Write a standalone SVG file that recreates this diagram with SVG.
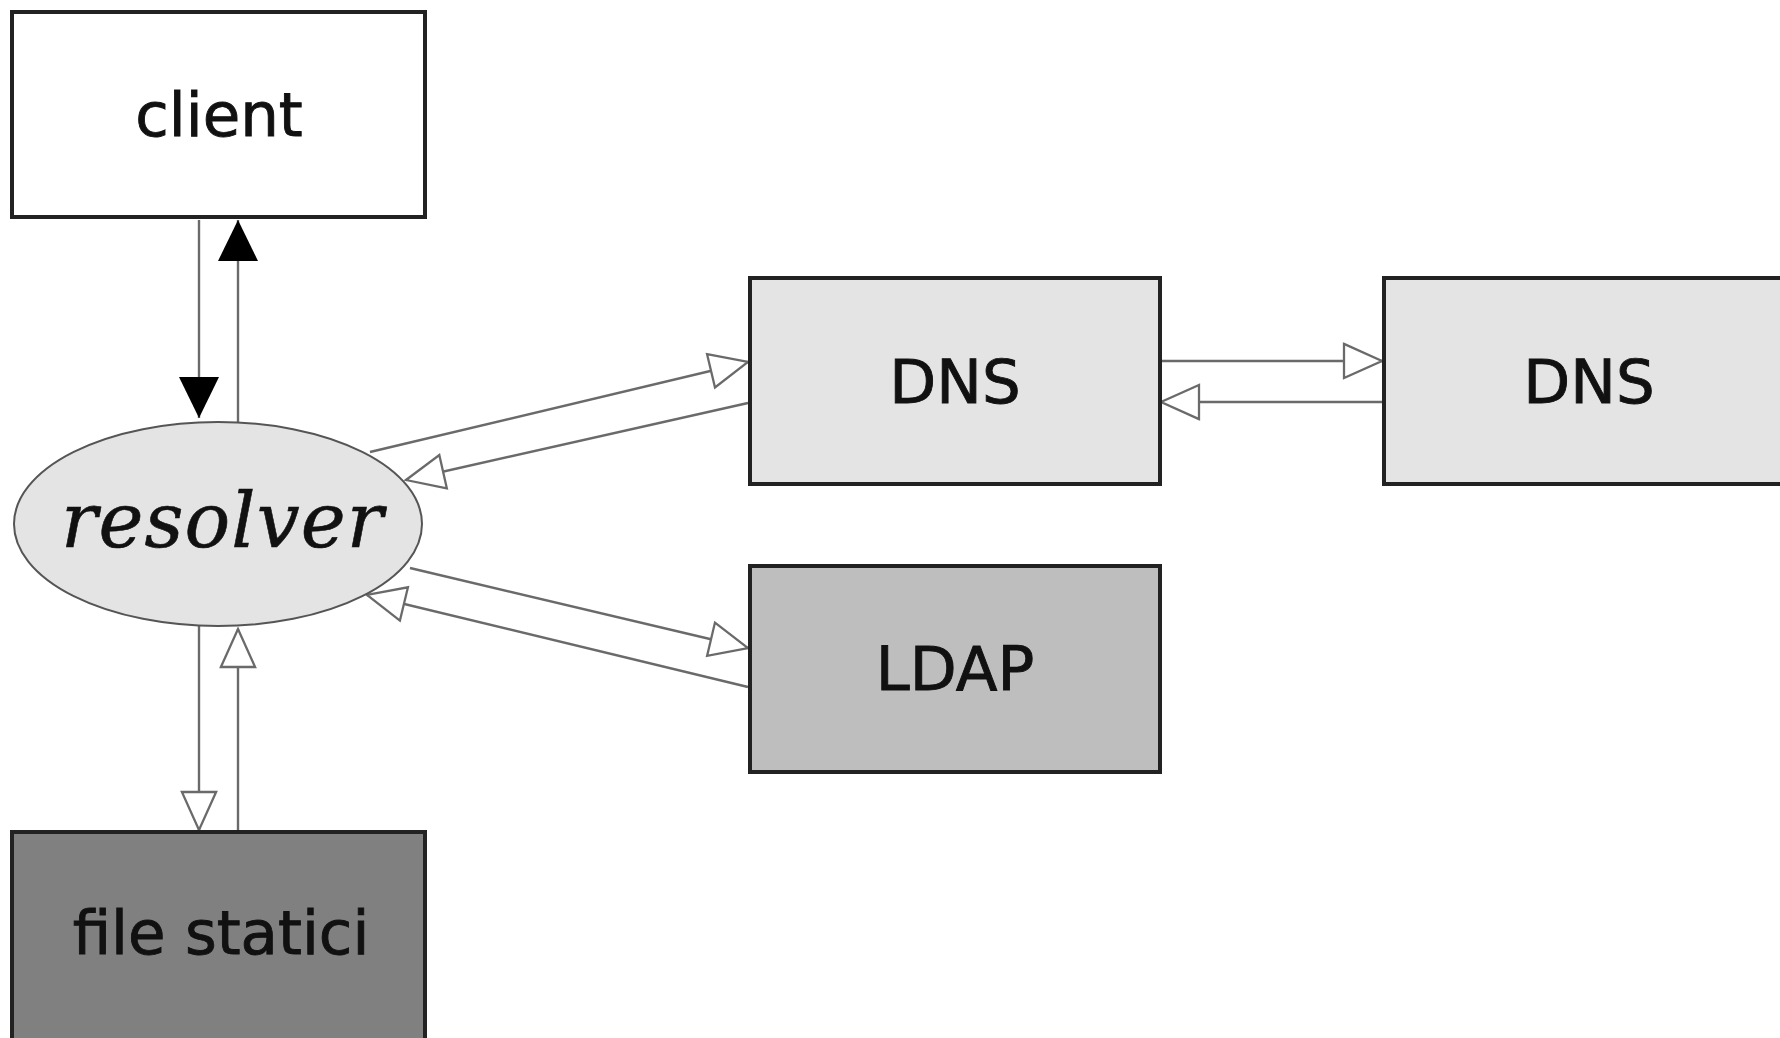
<svg xmlns="http://www.w3.org/2000/svg" width="1780" height="1038" viewBox="0 0 1780 1038">
  <style>
    .box { stroke: #222; stroke-width: 4; }
    .lbl { font-family: "DejaVu Sans", "Liberation Sans", sans-serif; font-size: 61px; fill: #111; stroke: #111; stroke-width: 0.9; text-anchor: middle; }
    .it { font-family: "DejaVu Serif", "Liberation Serif", serif; font-style: italic; font-size: 76px; fill: #111; stroke: #111; stroke-width: 0.6; text-anchor: middle; }
    .edge { stroke: #6a6a6a; stroke-width: 2.4; fill: none; }
  </style>
  <defs>
    <marker id="solid" markerUnits="userSpaceOnUse" viewBox="0 0 42 40" refX="41" refY="20" markerWidth="42" markerHeight="40" orient="auto" overflow="visible">
      <path d="M0,0 L41,20 L0,40 z" fill="#000"/>
    </marker>
    <marker id="hollow" markerUnits="userSpaceOnUse" viewBox="0 0 42 40" refX="41" refY="19" markerWidth="42" markerHeight="38" orient="auto" overflow="visible">
      <path d="M1,1 L41,19 L1,37 z" fill="#fff" stroke="#6a6a6a" stroke-width="2.4"/>
    </marker>
  </defs>

  <g id="connectors">
    <!-- client <-> resolver -->
    <line class="edge" x1="199" y1="220" x2="199" y2="418" marker-end="url(#solid)"/>
    <line class="edge" x1="238" y1="422" x2="238" y2="220" marker-end="url(#solid)"/>
    <!-- resolver <-> file statici -->
    <line class="edge" x1="199" y1="626" x2="199" y2="830" marker-end="url(#hollow)"/>
    <line class="edge" x1="238" y1="830" x2="238" y2="629" marker-end="url(#hollow)"/>
    <!-- resolver <-> DNS -->
    <line class="edge" x1="370" y1="452" x2="748" y2="362" marker-end="url(#hollow)"/>
    <line class="edge" x1="748" y1="403" x2="406" y2="480" marker-end="url(#hollow)"/>
    <!-- resolver <-> LDAP -->
    <line class="edge" x1="410" y1="568" x2="748" y2="648" marker-end="url(#hollow)"/>
    <line class="edge" x1="748" y1="687" x2="367" y2="595" marker-end="url(#hollow)"/>
    <!-- DNS <-> DNS -->
    <line class="edge" x1="1160" y1="361" x2="1382" y2="361" marker-end="url(#hollow)"/>
    <line class="edge" x1="1382" y1="402" x2="1161" y2="402" marker-end="url(#hollow)"/>
  </g>

  <g id="client">
    <rect class="box" x="12" y="12" width="413" height="205" fill="#fff"/>
    <text class="lbl" x="219" y="136">client</text>
  </g>

  <g id="resolver">
    <ellipse cx="218" cy="524" rx="204" ry="102" fill="#e4e4e4" stroke="#555" stroke-width="2"/>
    <text class="it" x="222" y="547" textLength="322" lengthAdjust="spacing">resolver</text>
  </g>

  <g id="file-statici">
    <rect class="box" x="12" y="832" width="413" height="210" fill="#808080"/>
    <text class="lbl" x="221" y="954">file statici</text>
  </g>

  <g id="dns-1">
    <rect class="box" x="750" y="278" width="410" height="206" fill="#e4e4e4"/>
    <text class="lbl" x="955" y="403">DNS</text>
  </g>

  <g id="dns-2">
    <rect class="box" x="1384" y="278" width="410" height="206" fill="#e4e4e4"/>
    <text class="lbl" x="1589" y="403">DNS</text>
  </g>

  <g id="ldap">
    <rect class="box" x="750" y="566" width="410" height="206" fill="#bebebe"/>
    <text class="lbl" x="955" y="690">LDAP</text>
  </g>
</svg>
